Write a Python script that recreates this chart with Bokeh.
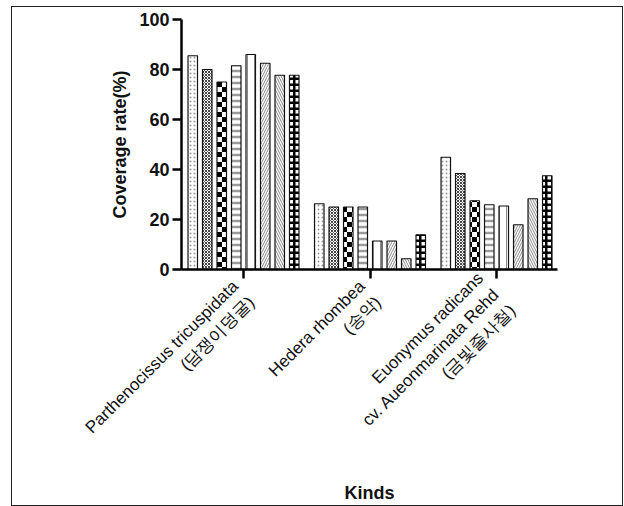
import base64
import numpy as np
from bokeh.plotting import figure
from bokeh.models import FixedTicker, Range1d, ImageURLTexture
from bokeh.core.properties import value
from bokeh.embed import file_html
from bokeh.resources import INLINE

# ---- data ----
kinds = [
    "Parthenocissus tricuspidata\n(담쟁이덩굴)",
    "Hedera rhombea\n(송악)",
    "Euonymus radicans\ncv. Aueonmarinata Rehd\n(금빛줄사철)",
]
s1 = [85.5, 26.3, 44.9]
s2 = [80.0, 25.0, 38.4]
s3 = [75.0, 25.0, 27.5]
s4 = [81.5, 25.0, 25.9]
s5 = [86.0, 11.4, 25.4]
s6 = [82.5, 11.4, 17.9]
s7 = [77.7, 4.3, 28.3]
s8 = [77.7, 13.9, 37.5]
series = [s1, s2, s3, s4, s5, s6, s7, s8]
y_ticks = [0, 20, 40, 60, 80, 100]

FONT = "Liberation Sans"


def svg_tex(svg):
    url = "data:image/svg+xml;base64," + base64.b64encode(svg.encode()).decode()
    return ImageURLTexture(url=url, repetition="repeat")


checker = svg_tex("<svg xmlns='http://www.w3.org/2000/svg' width='10' height='10'>"
                  "<rect width='10' height='10' fill='white'/>"
                  "<rect width='5' height='5' fill='black'/>"
                  "<rect x='5' y='5' width='5' height='5' fill='black'/></svg>")
blocks = svg_tex("<svg xmlns='http://www.w3.org/2000/svg' width='6' height='6'>"
                 "<rect width='6' height='6' fill='black'/>"
                 "<rect x='1.5' y='1' width='3.5' height='3.5' fill='white'/></svg>")

# pattern style per series: (pattern, color, scale, weight, extra)
styles = [
    (".", "#9a9a9a", 4, 1.2, None),
    ("x", "#444444", 3, 1.0, None),
    ("ck", "black", 10, 1, {"ck": checker}),
    ("-", "#9a9a9a", 6, 2.5, None),
    ("|", "#8a8a8a", 7, 1.0, None),
    ("/", "#8a8a8a", 5, 1.0, None),
    ("\\", "#8a8a8a", 5, 1.0, None),
    ("bk", "black", 6, 1, {"bk": blocks}),
]

p = figure(
    frame_width=376, frame_height=250,
    x_range=Range1d(-0.49, 2.482), y_range=Range1d(0, 100),
    output_backend="svg", toolbar_location=None,
    min_border_left=169, min_border_right=65, min_border_top=12, min_border_bottom=235,
    styles={"border": "1px solid #222", "margin-left": "11px", "margin-top": "6px"},
)
p.outline_line_color = None
p.grid.visible = False

x = np.arange(len(kinds))
pitch = 0.1146
width = 0.075
for i, s in enumerate(series):
    pat, col, sc, wt, extra = styles[i]
    kw = dict(hatch_pattern=value(pat) if extra else pat, hatch_color=col,
              hatch_scale=sc, hatch_weight=wt)
    if extra:
        kw["hatch_extra"] = extra
    p.vbar(x=x + (i - 3.5) * pitch, top=s, width=width, bottom=0,
           fill_color="white", line_color="#111111", line_width=1.2, **kw)

# y axis
ya = p.yaxis[0]
ya.ticker = FixedTicker(ticks=y_ticks)
ya.minor_tick_line_color = None
ya.major_tick_in = 0
ya.major_tick_out = 9
ya.axis_line_width = 2.5
ya.major_tick_line_width = 2.5
ya.major_label_text_font = FONT
ya.major_label_text_font_style = "bold"
ya.major_label_text_font_size = "18px"
ya.major_label_text_color = "#111111"
ya.major_label_standoff = 3
ya.axis_label = "Coverage rate(%)"
ya.axis_label_text_font = FONT
ya.axis_label_text_font_style = "bold"
ya.axis_label_text_font_size = "18px"
ya.axis_label_text_color = "#111111"
ya.axis_label_standoff = 6

# x axis
xa = p.xaxis[0]
xa.ticker = FixedTicker(ticks=list(x))
xa.major_label_overrides = {int(i): k for i, k in enumerate(kinds)}
xa.minor_tick_line_color = None
xa.major_tick_in = 0
xa.major_tick_out = 9
xa.axis_line_width = 2.5
xa.major_tick_line_width = 2.5
xa.major_label_orientation = np.pi / 4
xa.major_label_text_font = FONT
xa.major_label_text_font_size = "17px"
xa.major_label_text_color = "#111111"
xa.major_label_standoff = 13
xa.axis_label = "Kinds"
xa.axis_label_text_font = FONT
xa.axis_label_text_font_style = "bold"
xa.axis_label_text_font_size = "18px"
xa.axis_label_text_color = "#111111"
xa.axis_label_standoff = 11

open("out.html", "w").write(file_html(p, INLINE))
